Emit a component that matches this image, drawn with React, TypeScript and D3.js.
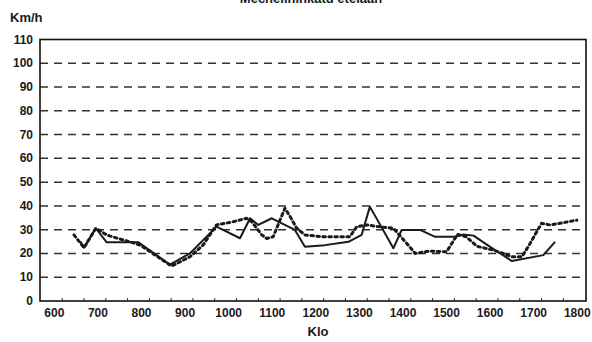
import React from "react";
import * as d3 from "d3";

const title = "Mechelininkatu etelään";
const yTitle = "Km/h";
const xTitle = "Klo";

const yTicks = [0, 10, 20, 30, 40, 50, 60, 70, 80, 90, 100, 110];
const xTicks = [600, 700, 800, 900, 1000, 1100, 1200, 1300, 1400, 1500, 1600, 1700, 1800];
const minorTicks = d3.range(618, 1800, 50);

const solidX = [660, 668, 695, 720, 793, 865, 911, 972, 1026, 1049, 1068, 1099, 1152, 1175, 1221, 1275, 1305, 1324, 1378, 1397, 1439, 1474, 1519, 1538, 1562, 1600, 1650, 1722, 1749];
const solidY = [25, 22.4, 30.6, 24.7, 24.7, 15.3, 20.0, 31.3, 26.4, 34.8, 32.0, 34.8, 29.9, 22.8, 23.5, 24.9, 27.8, 39.7, 22.2, 29.9, 29.9, 27.0, 27.0, 28.0, 27.5, 22.8, 16.8, 19.3, 24.9];

const dottedX = [645, 668, 695, 720, 746, 777, 797, 869, 911, 941, 972, 1010, 1041, 1053, 1076, 1087, 1102, 1129, 1141, 1156, 1175, 1217, 1278, 1294, 1317, 1343, 1378, 1412, 1428, 1460, 1500, 1525, 1545, 1570, 1607, 1630, 1650, 1673, 1692, 1718, 1737, 1760, 1799];
const dottedY = [27.8, 22.4, 30.6, 27.8, 26.3, 24.7, 23.5, 14.7, 18.6, 23.5, 32.0, 33.3, 34.8, 33.3, 27.8, 26.3, 27.0, 39.0, 35.5, 30.6, 27.8, 27.0, 27.0, 31.3, 32.0, 31.3, 30.6, 23.5, 20.0, 21.0, 20.7, 28.0, 27.0, 23.0, 21.4, 20.0, 18.6, 18.6, 24.3, 32.7, 32.0, 32.7, 34.0];

const W = 592, H = 342;
const L = 40, R = 586, T = 39.5, B = 301;

export default function App() {
  const x = d3.scaleLinear().domain([567, 1820]).range([L, R]);
  const y = d3.scaleLinear().domain([0, 110]).range([B, T]);
  const line = d3.line<[number, number]>().x(d => x(d[0])).y(d => y(d[1]));
  const solid = line(solidX.map((v, i) => [v, solidY[i]] as [number, number])) || "";
  const dotted = line(dottedX.map((v, i) => [v, dottedY[i]] as [number, number])) || "";
  const font = "'Liberation Sans', Arial, sans-serif";
  return (
    <svg width={W} height={H} style={{ position: "absolute", left: 0, top: 0, background: "#fff" }} fontFamily={font}>
      <rect width={W} height={H} fill="#fff" />
      <text x={311} y={3} textAnchor="middle" fontSize={13} fontWeight="bold" fill="#1a1a1a">{title}</text>
      <text x={10} y={22} fontSize={13} fontWeight="bold" fill="#1a1a1a">{yTitle}</text>
      {yTicks.filter(t => t > 0 && t < 110).map(t => (
        <line key={t} x1={L} x2={R} y1={y(t)} y2={y(t)} stroke="#333" strokeWidth={1.5} strokeDasharray="8,6" />
      ))}
      {yTicks.map(t => (
        <text key={t} x={33} y={y(t) + 4} textAnchor="end" fontSize={12} fontWeight={600} fill="#1a1a1a">{t}</text>
      ))}
      {minorTicks.map(t => (
        <line key={t} x1={x(t)} x2={x(t)} y1={B} y2={B - 3} stroke="#333" strokeWidth={1} />
      ))}
      {xTicks.map(t => (
        <text key={t} x={x(t)} y={317} textAnchor="middle" fontSize={12} fontWeight={600} fill="#1a1a1a">{t}</text>
      ))}
      <text x={318} y={336} textAnchor="middle" fontSize={13} fontWeight="bold" fill="#1a1a1a">{xTitle}</text>
      <path d={dotted} fill="none" stroke="#1a1a1a" strokeWidth={3} strokeDasharray="2.5,3.5" strokeLinecap="round" strokeLinejoin="round" />
      <path d={solid} fill="none" stroke="#1a1a1a" strokeWidth={2} strokeLinejoin="round" />
      <rect x={L} y={T} width={R - L} height={B - T} fill="none" stroke="#111" strokeWidth={1.6} />
    </svg>
  );
}
